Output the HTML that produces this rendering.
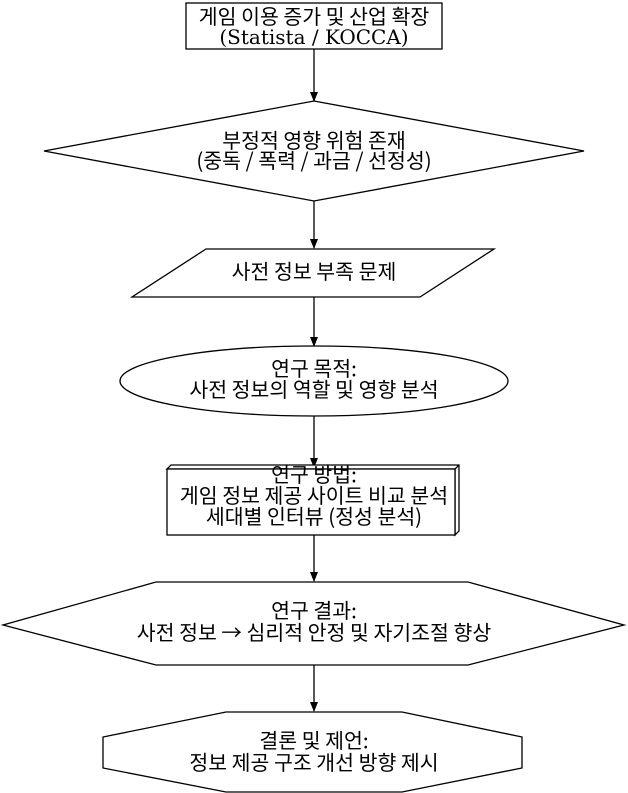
<!DOCTYPE html>
<html><head><meta charset="utf-8"><style>
html,body{margin:0;padding:0;background:#fff;}
svg{display:block;}
text{font-family:"Noto Sans CJK KR",sans-serif;font-size:20.5px;fill:#000;text-anchor:middle;}
.s{font-family:"DejaVu Serif",serif;font-size:20px;}
</style></head><body>
<svg width="628" height="793" viewBox="0 0 628 793" xmlns="http://www.w3.org/2000/svg">
<defs><marker id="a" markerWidth="10" markerHeight="10" refX="9" refY="5" orient="auto" markerUnits="userSpaceOnUse"><path d="M0,1 L10,5 L0,9 Z" fill="#000"/></marker></defs>
<g fill="none" stroke="#000" stroke-width="1.3">
<rect x="186" y="3" width="256" height="46" fill="#fff"/>
<line x1="314" y1="49" x2="314" y2="101" marker-end="url(#a)"/>
<polygon points="314,101 584,151 314,201 44,151" fill="#fff"/>
<line x1="314" y1="201" x2="314" y2="248" marker-end="url(#a)"/>
<polygon points="206,249 494,249 420,297 132,297" fill="#fff"/>
<line x1="314" y1="297" x2="314" y2="346" marker-end="url(#a)"/>
<ellipse cx="314" cy="381" rx="194" ry="35" fill="#fff"/>
<line x1="314" y1="416" x2="314" y2="467" marker-end="url(#a)"/>
<polygon points="167,469 171,465 459,465 459,531 455,535 455,469" fill="#fff"/>
<line x1="455" y1="469" x2="459" y2="465"/>
<rect x="167" y="469" width="288" height="66" fill="#fff"/>
<line x1="314" y1="535" x2="314" y2="581" marker-end="url(#a)"/>
<polygon points="156,582 468,582 624,625 468,665 156,665 3,625" fill="#fff"/>
<line x1="314" y1="665" x2="314" y2="711" marker-end="url(#a)"/>
<polygon points="226,712 402,712 522,737 522,768 402,792 226,792 103,768 103,737" fill="#fff"/>
</g>
<text x="314" y="24">게임 이용 증가 및 산업 확장</text>
<text x="314" y="44" class="s">(Statista / KOCCA)</text>
<text x="314" y="148">부정적 영향 위험 존재</text>
<text x="314" y="168">(중독 / 폭력 / 과금 / 선정성)</text>
<text x="314" y="279">사전 정보 부족 문제</text>
<text x="314" y="376">연구 목적:</text>
<text x="314" y="397">사전 정보의 역할 및 영향 분석</text>
<text x="314" y="482">연구 방법:</text>
<text x="314" y="503">게임 정보 제공 사이트 비교 분석</text>
<text x="314" y="524">세대별 인터뷰 (정성 분석)</text>
<text x="314" y="618">연구 결과:</text>
<text x="314" y="640">사전 정보 → 심리적 안정 및 자기조절 향상</text>
<text x="314" y="748">결론 및 제언:</text>
<text x="314" y="770">정보 제공 구조 개선 방향 제시</text>
</svg>
</body></html>
